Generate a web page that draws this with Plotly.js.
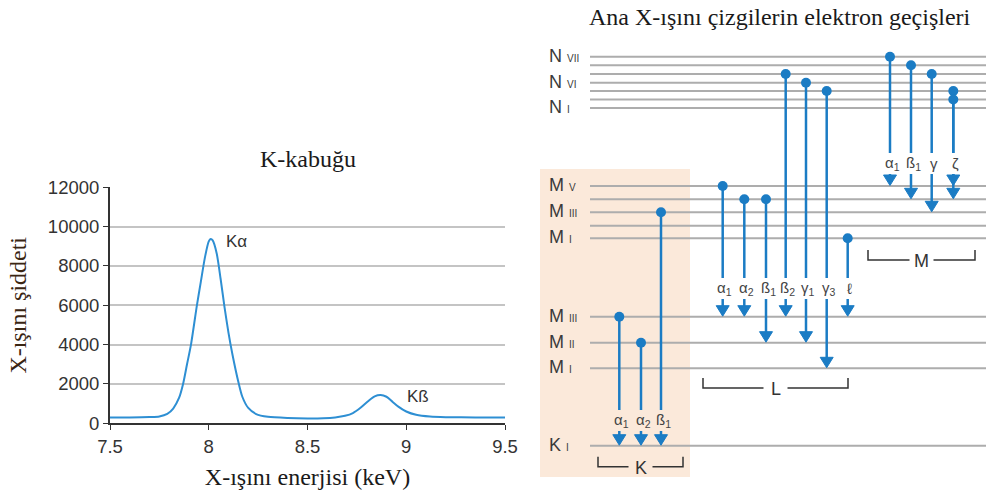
<!DOCTYPE html>
<html><head><meta charset="utf-8">
<script src="https://cdn.plot.ly/plotly-3.0.1.min.js"></script>
<style>html,body{margin:0;padding:0;background:#fff}#chart{width:986px;height:500px}</style>
</head><body><div id="chart"></div>
<script>
// ---------- Spectrum (left chart) ----------
const energyKeV = [7.50,7.60,7.70,7.75,7.79,7.82,7.85,7.87,7.89,7.91,7.94,7.96,7.98,8.00,8.01,8.02,8.04,8.06,8.08,8.10,8.12,8.15,8.17,8.20,8.24,8.30,8.40,8.50,8.58,8.64,8.69,8.73,8.77,8.81,8.84,8.87,8.90,8.93,8.96,9.00,9.05,9.12,9.20,9.35,9.50];
const intensity = [300,300,320,350,480,750,1300,2000,3000,4000,6000,7200,8400,9250,9370,9300,8650,7350,5900,4600,3500,2100,1350,780,470,330,270,250,260,300,380,520,800,1150,1370,1440,1350,1100,850,600,430,340,310,300,300];
const xTickVals = [7.5,8,8.5,9,9.5];
const xTickText = ['7.5','8','8.5','9','9.5'];
const yTickVals = [0,2000,4000,6000,8000,10000,12000];
const yTickText = ['0','2000','4000','6000','8000','10000','12000'];
const peakLabels = ['Kα','Kß'];
const peakLabelX = [8.077,8.994];
const peakLabelY = [9230,1350];

// ---------- Energy level diagram (right), diagram units: top = 0 ----------
const levelLetter = ['N','','','N','','','N','M','','M','','M','M','M','M','K'];
const levelRoman  = ['VII','','','VI','','','I','V','','III','','I','III','II','I','I'];
const levelY      = [56.7,65.3,74,82.7,91,99.5,108,186,199.3,212.3,225.7,238.3,316.7,342.7,368.3,445.7];

const transGroup  = ['K','K','K','L','L','L','L','L','L','L','M','M','M','M','M'];
const transSymbol = ['α<sub>1</sub>','α<sub>2</sub>','ß<sub>1</sub>','α<sub>1</sub>','α<sub>2</sub>','ß<sub>1</sub>','ß<sub>2</sub>','γ<sub>1</sub>','γ<sub>3</sub>','ℓ','α<sub>1</sub>','ß<sub>1</sub>','γ','ζ',''];
const transX      = [619.3,641,661,722.7,744.3,766,785.7,806,826.7,847.7,890,911,931.7,953.3,953.3];
const transFrom   = [12,13,9,7,8,8,2,3,4,11,0,1,2,4,5];
const transTo     = [15,15,15,12,12,13,12,13,14,12,7,8,9,7,8];

const groupNames  = ['K','L','M'];
const groupLabelY = [420,288,163];
const bracketX0   = [598,703,868];
const bracketX1   = [683,848,975];
const bracketY    = [466.7,388,260];

const blue = '#1b7cc4';
const levelX0 = 590, levelX1 = 986;

const traces = [];
traces.push({x:energyKeV,y:intensity,type:'scatter',mode:'lines',xaxis:'x',yaxis:'y',
  line:{color:'#2e8fd3',width:2,shape:'spline',smoothing:0.7},hoverinfo:'skip'});

const lx=[],ly=[];
levelY.forEach(y=>{lx.push(levelX0,levelX1,null);ly.push(y,y,null);});
traces.push({x:lx,y:ly,xaxis:'x2',yaxis:'y2',type:'scatter',mode:'lines',
  line:{color:'#adadad',width:2},hoverinfo:'skip'});

const sx=[],sy=[],hx=[],hy=[],dx=[],dy=[];
const headW=6.5,headH=10.5;
transX.forEach((x,i)=>{
  const g=groupNames.indexOf(transGroup[i]);
  const lab=groupLabelY[g];
  const y0=levelY[transFrom[i]], yT=levelY[transTo[i]]-0.5;
  sx.push(x,x,null); sy.push(y0,lab-10,null);
  sx.push(x,x,null); sy.push(lab+11,yT-headH+1,null);
  hx.push(x-headW,x+headW,x,x-headW,null); hy.push(yT-headH,yT-headH,yT,yT-headH,null);
  dx.push(x); dy.push(y0);
});
traces.push({x:sx,y:sy,xaxis:'x2',yaxis:'y2',type:'scatter',mode:'lines',
  line:{color:blue,width:2.5},hoverinfo:'skip'});
traces.push({x:hx,y:hy,xaxis:'x2',yaxis:'y2',type:'scatter',mode:'lines',fill:'toself',
  fillcolor:blue,line:{color:blue,width:1},hoverinfo:'skip'});
traces.push({x:dx,y:dy,xaxis:'x2',yaxis:'y2',type:'scatter',mode:'markers',
  marker:{color:blue,size:10},hoverinfo:'skip'});

const annotations=[];
const sans='Liberation Sans, Arial, sans-serif';
const serif='Liberation Serif, Times New Roman, serif';
peakLabels.forEach((t,i)=>annotations.push({text:t,x:peakLabelX[i],y:peakLabelY[i],xref:'x',yref:'y',
  xanchor:'left',yanchor:'middle',showarrow:false,font:{family:sans,size:17,color:'#333'}}));
levelLetter.forEach((l,i)=>{ if(!l) return;
  annotations.push({text:l+' <span style="font-size:10px">'+levelRoman[i]+'</span>',x:547,y:levelY[i]-1,
    xref:'x2',yref:'y2',xanchor:'left',yanchor:'middle',showarrow:false,font:{family:sans,size:18,color:'#3a3a3a'}});
});
transSymbol.forEach((t,i)=>{ if(!t) return;
  const g=groupNames.indexOf(transGroup[i]);
  annotations.push({text:t,x:transX[i]+2,y:groupLabelY[g],xref:'x2',yref:'y2',xanchor:'center',yanchor:'middle',
    showarrow:false,font:{family:sans,size:15,color:'#444'}});
});
const shapes=[];
shapes.push({type:'rect',xref:'x2',yref:'y2',x0:540,x1:690,y0:169,y1:477,fillcolor:'#fbe9da',line:{width:0},layer:'below'});
const gapHalf=12;
groupNames.forEach((g,i)=>{
  const x0=bracketX0[i],x1=bracketX1[i],y=bracketY[i],xm=(x0+x1)/2;
  shapes.push({type:'path',xref:'x2',yref:'y2',path:`M${x0},${y-10} L${x0},${y} L${xm-gapHalf},${y}`,
    line:{color:'#333',width:1.5}});
  shapes.push({type:'path',xref:'x2',yref:'y2',path:`M${xm+gapHalf},${y} L${x1},${y} L${x1},${y-10}`,
    line:{color:'#333',width:1.5}});
  annotations.push({text:g,x:xm,y:y+1,xref:'x2',yref:'y2',xanchor:'center',yanchor:'middle',showarrow:false,
    font:{family:sans,size:18,color:'#333'}});
});
annotations.push({text:'K-kabuğu',x:308/986,y:1-159/500,xref:'paper',yref:'paper',xanchor:'center',yanchor:'middle',
  showarrow:false,font:{family:serif,size:24,color:'#1a1a1a'}});
annotations.push({text:'Ana X-ışını çizgilerin elektron geçişleri',x:780/986,y:1-17/500,xref:'paper',yref:'paper',
  xanchor:'center',yanchor:'middle',showarrow:false,font:{family:serif,size:24,color:'#1a1a1a'}});

const layout={
  width:986,height:500,margin:{l:0,r:0,t:0,b:0},
  paper_bgcolor:'#ffffff',plot_bgcolor:'rgba(0,0,0,0)',showlegend:false,
  xaxis:{domain:[110/986,505/986],range:[7.5,9.5],tickvals:xTickVals,ticktext:xTickText,showgrid:false,zeroline:false,
    showline:true,linecolor:'#333',linewidth:2,ticks:'outside',ticklen:5,tickcolor:'#333',anchor:'y',
    tickfont:{family:sans,size:18.5,color:'#333'},
    title:{text:'X-ışını enerjisi (keV)',font:{family:serif,size:24,color:'#1a1a1a'},standoff:13}},
  yaxis:{domain:[1-423.3/500,1-187.3/500],range:[0,12000],tickvals:yTickVals,ticktext:yTickText,
    showgrid:true,gridcolor:'#c4c4c4',gridwidth:2,zeroline:false,anchor:'x',
    showline:true,linecolor:'#333',linewidth:2,ticks:'outside',ticklen:5,tickcolor:'#333',
    tickfont:{family:sans,size:18.5,color:'#333'},
    title:{text:'X-ışını şiddeti',font:{family:serif,size:24,color:'#3a2512'},standoff:14}},
  xaxis2:{domain:[0,1],range:[0,986],visible:false,anchor:'y2',fixedrange:true},
  yaxis2:{domain:[0,1],range:[500,0],visible:false,anchor:'x2',fixedrange:true},
  annotations:annotations,shapes:shapes
};
Plotly.newPlot('chart',traces,layout,{displayModeBar:false,staticPlot:true});
</script></body></html>
